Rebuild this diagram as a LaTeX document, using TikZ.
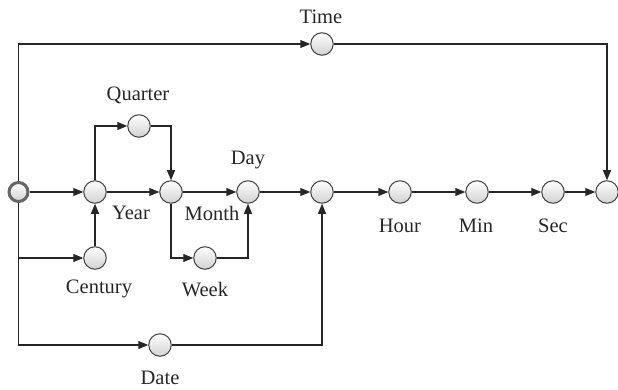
\documentclass[tikz,border=0pt]{standalone}
\usepackage{fontspec}
\setmainfont{Liberation Serif}
\usetikzlibrary{arrows.meta}
\begin{document}
\begin{tikzpicture}[x=1pt,y=-1pt,
 st/.style={circle,draw=black!75,line width=1pt,minimum size=22.5pt,inner sep=0pt,top color=white,bottom color=black!18},
 startst/.style={circle,draw=black!60,line width=3pt,minimum size=19pt,inner sep=0pt,top color=white,bottom color=black!18},
 lab/.style={font=\fontsize{20.5}{23}\selectfont,text=black!85,inner sep=0pt},
 ar/.style={draw=black!85,line width=1.1pt,-{Triangle[length=10pt,width=8pt]}},
 ln/.style={draw=black!85,line width=1.1pt}]
\useasboundingbox (0,0) rectangle (618,390);
% nodes
\node[startst] (s) at (18.5,192) {};
\node[st] (y) at (95,192) {};
\node[st] (mo) at (171,192) {};
\node[st] (dy) at (248,192) {};
\node[st] (m) at (322,192) {};
\node[st] (h) at (400,192) {};
\node[st] (mi) at (477,192) {};
\node[st] (se) at (553,192) {};
\node[st] (e) at (607,192) {};
\node[st] (q) at (139,126) {};
\node[st] (c) at (95,258) {};
\node[st] (w) at (205,258) {};
\node[st] (t) at (322,44) {};
\node[st] (d) at (160,345) {};
% labels
\node[lab] (lt) at (321,17) {Time};
\node[lab] (lq) at (138,95) {Quarter};
\node[lab] (ldy) at (248,160) {Day};
\node[lab] (ly) at (131,213) {Year};
\node[lab] (lmo) at (212,213) {Month};
\node[lab] (lc) at (99,289) {Century};
\node[lab] (lw) at (205,290) {Week};
\node[lab] (ld) at (160,378) {Date};
\node[lab] (lh) at (400,226) {Hour};
\node[lab] (lmi) at (476,226) {Min};
\node[lab] (lse) at (553,226) {Sec};
% connectors
\draw[ar] (s) -- (y);
\draw[ar] (s.north) |- (t);
\draw[ar] (t) -| (e);
\draw[ar] (s.south) |- (d);
\draw[ar] (s.south |- c) -- (c);
\draw[ar] (d) -| (m);
\draw[ar] (c) -- (y);
\draw[ar] (y) -- (mo);
\draw[ar] (y.north) |- (q);
\draw[ar] (q) -| (mo);
\draw[ar] (mo) -- (dy);
\draw[ar] (mo.south) |- (w);
\draw[ar] (w) -| (dy);
\draw[ar] (dy) -- (m);
\draw[ar] (m) -- (h);
\draw[ar] (h) -- (mi);
\draw[ar] (mi) -- (se);
\draw[ar] (se) -- (e);
\end{tikzpicture}
\end{document}
